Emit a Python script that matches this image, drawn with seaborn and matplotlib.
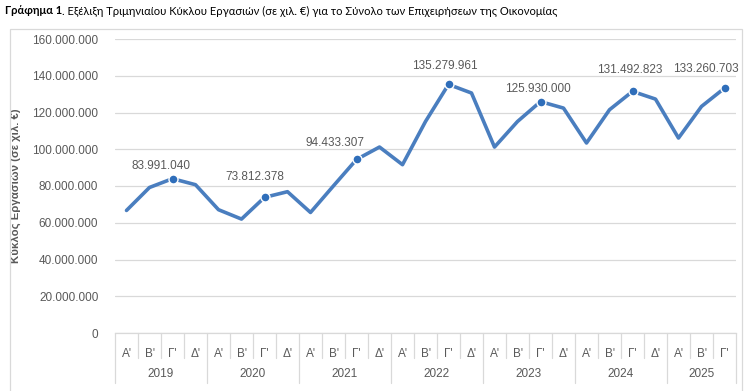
import numpy as np
import pandas as pd
import matplotlib
matplotlib.use('Agg')
import matplotlib.pyplot as plt
import matplotlib.transforms as mtransforms
from matplotlib.patches import Rectangle
from matplotlib.ticker import FuncFormatter, MultipleLocator
import seaborn as sns

# Δεδομένα (χιλ. €) ανά τρίμηνο
years = ['2019', '2020', '2021', '2022', '2023', '2024', '2025']
quarters = ["Α'", "Β'", "Γ'", "Δ'"]
quarters_per_year = [4, 4, 4, 4, 4, 4, 3]
turnover = [
    66_700_000, 79_200_000, 83_991_040, 80_700_000,
    67_100_000, 62_000_000, 73_812_378, 76_900_000,
    65_600_000, 80_100_000, 94_433_307, 101_200_000,
    91_600_000, 115_100_000, 135_279_961, 130_600_000,
    101_200_000, 115_100_000, 125_930_000, 122_400_000,
    103_400_000, 121_500_000, 131_492_823, 127_300_000,
    106_100_000, 123_300_000, 133_260_703,
]
labeled_idx = [2, 6, 10, 14, 18, 22, 26]
# θέση ετικετών (pixels) σε σχέση με το σημείο
label_offsets = [(-11, 13), (-10, 20), (-21, 16), (-4, 18), (-3, 13), (-3, 21), (-19, 19)]

quarter_labels = [quarters[q] for n in quarters_per_year for q in range(n)]
df = pd.DataFrame({'pos': np.arange(len(turnover)), 'value': turnover})

sns.set_theme(style='white')
plt.rcParams['font.family'] = ['Liberation Sans', 'DejaVu Sans']
plt.rcParams['axes.unicode_minus'] = False
COMPACT = ['Lato', 'Liberation Sans', 'DejaVu Sans']

BLUE = '#4A7EBF'
MARK = '#2F6EBA'
GRAY_TXT = '#595959'
GRID = '#D9D9D9'

fig = plt.figure(figsize=(7.5, 3.91), dpi=100)
ax = fig.add_axes([115 / 750, 1 - 333 / 391, (736 - 115) / 750, (333 - 39) / 391])

sns.lineplot(data=df, x='pos', y='value', ax=ax, color=BLUE, linewidth=2.6,
             solid_capstyle='round', solid_joinstyle='round')
ax.plot(df['pos'].iloc[labeled_idx], df['value'].iloc[labeled_idx], 'o', color=MARK,
        markersize=6.5, markeredgecolor='white', markeredgewidth=1.0, zorder=5)

for i, (dx, dy) in zip(labeled_idx, label_offsets):
    v = turnover[i]
    ax.annotate(f'{v:,.0f}'.replace(',', '.'), (i, v), xytext=(dx, dy),
                textcoords='offset pixels', ha='center', va='center',
                fontsize=8.5, color=GRAY_TXT)

ax.set_ylim(0, 160_000_000)
ax.set_xlim(-0.5, len(turnover) - 0.5)
ax.yaxis.set_major_locator(MultipleLocator(20_000_000))
ax.yaxis.set_major_formatter(FuncFormatter(lambda v, p: f'{v:,.0f}'.replace(',', '.')))
ax.grid(axis='y', color=GRID, linewidth=0.9)
ax.set_axisbelow(True)
for s in ['top', 'right', 'left']:
    ax.spines[s].set_visible(False)
ax.spines['bottom'].set_color(GRID)
ax.spines['bottom'].set_linewidth(0.9)
ax.tick_params(axis='y', length=0, pad=12, labelsize=8.5, labelcolor=GRAY_TXT)

ax.set_xticks(df['pos'])
ax.set_xticklabels(quarter_labels)
ax.tick_params(axis='x', length=0, pad=11, labelsize=8.5, labelcolor=GRAY_TXT)
ax.set_xlabel('')
ax.set_ylabel('Κύκλος Εργασιών (σε χιλ. €)', fontsize=8.2, fontweight='bold',
              color=GRAY_TXT)
ax.yaxis.set_label_coords(-(115 - 21) / 621, 0.5)

# διαχωριστικά κατηγοριών στον άξονα x
trans = mtransforms.blended_transform_factory(ax.transData, ax.transAxes)
q_drop = 25 / 294
y_drop = 50 / 294
year_starts = np.concatenate([[0], np.cumsum(quarters_per_year)])
for b in range(len(turnover) + 1):
    depth = y_drop if b in year_starts else q_drop
    ax.plot([b - 0.5, b - 0.5], [0, -depth], transform=trans, color=GRID,
            linewidth=0.9, clip_on=False)
for y, s, n in zip(years, year_starts[:-1], quarters_per_year):
    ax.text(s + (n - 1) / 2, -41 / 294, y, transform=trans, ha='center', va='center',
            fontsize=8.5, color=GRAY_TXT)

# πλαίσιο γραφήματος
fig.patches.append(Rectangle((10 / 750, -0.05), (742 - 10) / 750, 1 - 29 / 391 + 0.05,
                             transform=fig.transFigure, fill=False, edgecolor=GRID,
                             linewidth=0.9))

# τίτλος
t1 = fig.text(5 / 750, 1 - 11 / 391, 'Γράφημα 1', fontsize=8, fontweight='bold',
              ha='left', va='center', color='black', family=COMPACT)
fig.canvas.draw()
bb = t1.get_window_extent()
fig.text(bb.x1 / 750, 1 - 11 / 391,
         '. Εξέλιξη Τριμηνιαίου Κύκλου Εργασιών (σε χιλ. €) για το Σύνολο των Επιχειρήσεων της Οικονομίας',
         fontsize=8, ha='left', va='center', color='black', family=COMPACT)

fig.savefig('out.png', dpi=100, facecolor='white')
